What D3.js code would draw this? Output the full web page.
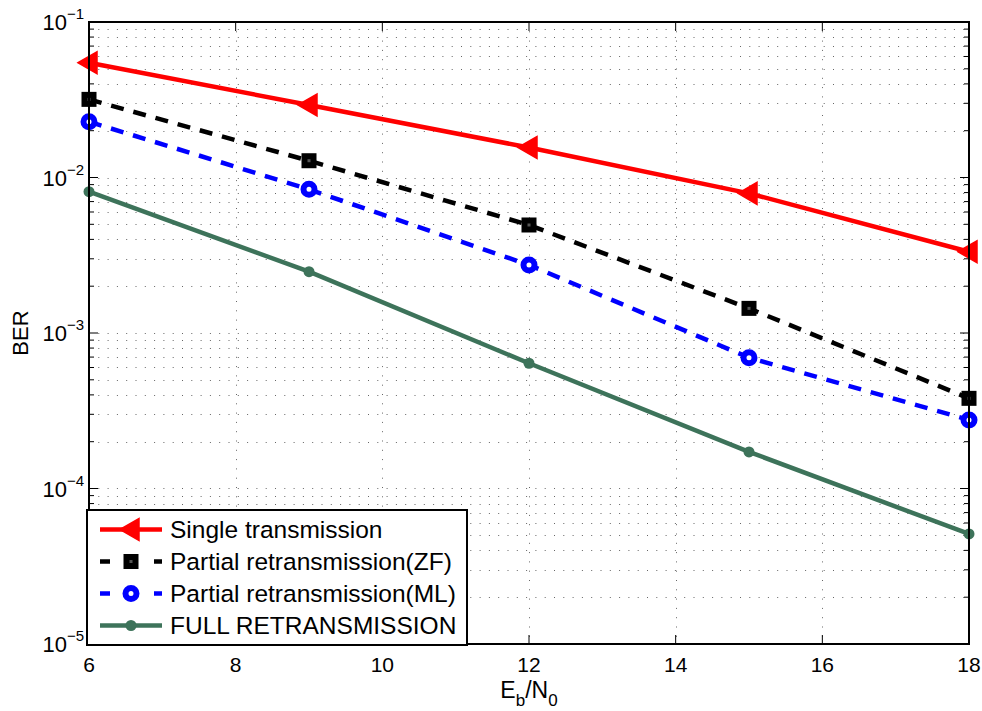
<!DOCTYPE html>
<html>
<head>
<meta charset="utf-8">
<script src="https://cdn.jsdelivr.net/npm/d3@7"></script>
<style>
  body { margin: 0; background: #fff; }
  svg { display: block; font-family: "Liberation Sans", Arial, Helvetica, sans-serif; }
</style>
</head>
<body>
<svg id="chart" width="982" height="711"></svg>
<script>
// Eb/N0 points (dB)
const ebn0 = [6, 9, 12, 15, 18];

// BER for each scheme
const berSingle  = [0.0547, 0.02925, 0.01559, 0.00791, 0.00333];
const berZF      = [0.0318, 0.01282, 0.00495, 0.00144, 0.00038];
const berML      = [0.02284, 0.00839, 0.00274, 0.000694, 0.000276];
const berFull    = [0.00810, 0.00248, 0.000639, 0.000172, 0.0000510];

const seriesNames = ["Single transmission", "Partial retransmission(ZF)", "Partial retransmission(ML)", "FULL RETRANSMISSION"];

const xTicks = [6, 8, 10, 12, 14, 16, 18];
const yDecades = [-5, -4, -3, -2, -1];

const margin = { left: 89, top: 22, right: 13, bottom: 67 };
const W = 982, H = 711;
const pw = W - margin.left - margin.right;
const ph = H - margin.top - margin.bottom;

const svg = d3.select("#chart");
const g = svg.append("g").attr("transform", `translate(${margin.left},${margin.top})`);

const x = d3.scaleLinear().domain([6, 18]).range([0, pw]);
const y = d3.scaleLog().domain([1e-5, 1e-1]).range([ph, 0]);

// Minor y values: 2..9 × each decade
const yMinor = [];
for (let e = -5; e < -1; e++) for (let k = 2; k <= 9; k++) yMinor.push(k * Math.pow(10, e));
const yMajor = yDecades.map(e => Math.pow(10, e));

// dotted grid
const grid = g.append("g").attr("stroke", "#666").attr("stroke-width", 1).attr("stroke-dasharray", "1,8.3");
grid.selectAll(".gx").data(xTicks.slice(1, -1)).join("line")
  .attr("x1", d => Math.round(x(d)) + 0.5).attr("x2", d => Math.round(x(d)) + 0.5).attr("y1", 0).attr("y2", ph);
grid.selectAll(".gy").data(yMinor.concat(yMajor.slice(1, -1))).join("line")
  .attr("x1", 0).attr("x2", pw).attr("y1", d => Math.round(y(d)) + 0.5).attr("y2", d => Math.round(y(d)) + 0.5);

// inward ticks on all four sides
const tk = g.append("g").attr("stroke", "#000").attr("stroke-width", 1);
xTicks.forEach(t => {
  tk.append("line").attr("x1", x(t)).attr("x2", x(t)).attr("y1", ph).attr("y2", ph - 9);
  tk.append("line").attr("x1", x(t)).attr("x2", x(t)).attr("y1", 0).attr("y2", 9);
});
yMajor.forEach(t => {
  tk.append("line").attr("x1", 0).attr("x2", 9).attr("y1", y(t)).attr("y2", y(t));
  tk.append("line").attr("x1", pw).attr("x2", pw - 9).attr("y1", y(t)).attr("y2", y(t));
});
yMinor.forEach(t => {
  tk.append("line").attr("x1", 0).attr("x2", 5).attr("y1", y(t)).attr("y2", y(t));
  tk.append("line").attr("x1", pw).attr("x2", pw - 5).attr("y1", y(t)).attr("y2", y(t));
});

// tick labels
g.append("g").selectAll("text").data(xTicks).join("text")
  .attr("x", d => x(d)).attr("y", ph + 28).attr("text-anchor", "middle")
  .attr("font-size", 21).text(d => d);

const yl = g.append("g").selectAll("text").data(yDecades).join("text")
  .attr("x", -5).attr("y", d => y(Math.pow(10, d)) + 8).attr("text-anchor", "end")
  .attr("font-size", 22);
yl.append("tspan").text("10");
yl.append("tspan").attr("dy", -11).attr("font-size", 15).text(d => "\u2212" + Math.abs(d));

// axis titles
const xt = svg.append("text").attr("x", margin.left + pw / 2).attr("y", 698)
  .attr("text-anchor", "middle").attr("font-size", 23);
xt.append("tspan").text("E");
xt.append("tspan").attr("dy", 8).attr("font-size", 17).text("b");
xt.append("tspan").attr("dy", -8).text("/N");
xt.append("tspan").attr("dy", 8).attr("font-size", 17).text("0");

svg.append("text").attr("transform", `translate(28,${margin.top + ph / 2}) rotate(-90)`)
  .attr("text-anchor", "middle").attr("font-size", 22).text("BER");

// series definitions
const series = [
  { name: seriesNames[0], vals: berSingle, color: "#ff0000", dash: null, marker: "tri" },
  { name: seriesNames[1], vals: berZF, color: "#000000", dash: "13,10", marker: "sq" },
  { name: seriesNames[2], vals: berML, color: "#0000ff", dash: "13,10", marker: "circ" },
  { name: seriesNames[3], vals: berFull, color: "#3d735a", dash: null, marker: "dot" }
];

function drawMarker(sel, type, color, cx, cy) {
  if (type === "tri") {
    sel.append("path").attr("d", `M${cx - 11},${cy} L${cx + 8},${cy - 11} L${cx + 8},${cy + 11} Z`)
      .attr("fill", color).attr("stroke", color).attr("stroke-width", 1.5);
  } else if (type === "sq") {
    sel.append("rect").attr("x", cx - 4.5).attr("y", cy - 4.5).attr("width", 9).attr("height", 9)
      .attr("fill", "#555").attr("stroke", color).attr("stroke-width", 6);
  } else if (type === "circ") {
    sel.append("circle").attr("cx", cx).attr("cy", cy).attr("r", 5.5)
      .attr("fill", "#fff").attr("stroke", color).attr("stroke-width", 6);
  } else {
    sel.append("circle").attr("cx", cx).attr("cy", cy).attr("r", 5.5).attr("fill", color);
  }
}

const line = d3.line().x((d, i) => x(ebn0[i])).y(d => y(d));

series.forEach(s => {
  g.append("path").datum(s.vals).attr("d", line).attr("fill", "none")
    .attr("stroke", s.color).attr("stroke-width", 4.5).attr("stroke-dasharray", s.dash);
  const mg = g.append("g");
  s.vals.forEach((v, i) => drawMarker(mg, s.marker, s.color, x(ebn0[i]), y(v)));
});

// axes box
g.append("rect").attr("x", 0).attr("y", 0).attr("width", pw).attr("height", ph)
  .attr("fill", "none").attr("stroke", "#000").attr("stroke-width", 2);

// legend
const lg = svg.append("g").attr("transform", "translate(87,510)");
lg.append("rect").attr("x", 0).attr("y", 0).attr("width", 380).attr("height", 135)
  .attr("fill", "#fff").attr("stroke", "#000").attr("stroke-width", 2);
series.forEach((s, i) => {
  const cy = 19.5 + i * 32;
  lg.append("line").attr("x1", 13).attr("x2", 75).attr("y1", cy).attr("y2", cy)
    .attr("stroke", s.color).attr("stroke-width", 4.5).attr("stroke-dasharray", s.dash ? "10,17" : null);
  drawMarker(lg, s.marker, s.color, 44, cy);
  lg.append("text").attr("x", 83).attr("y", cy + 8.5).attr("font-size", 24.5).text(s.name);
});
</script>
</body>
</html>
